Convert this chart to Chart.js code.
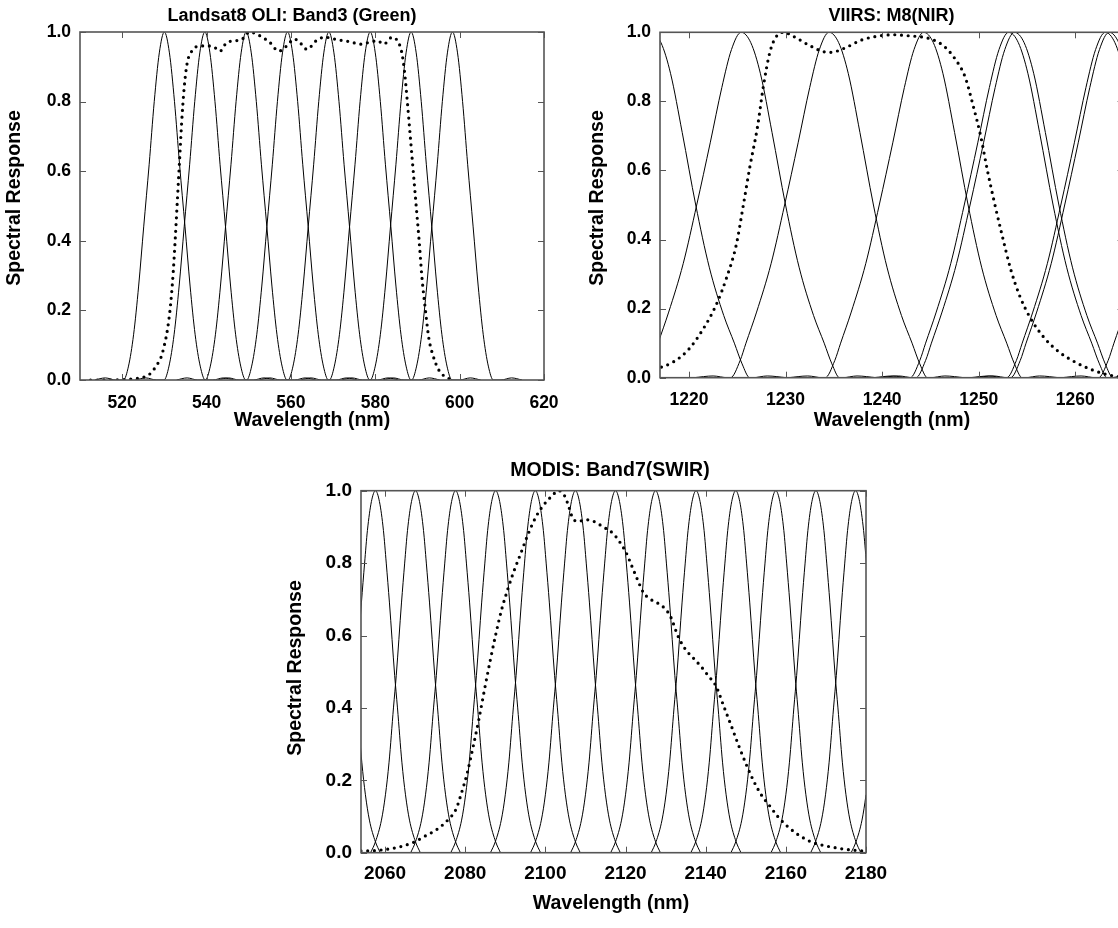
<!DOCTYPE html>
<html>
<head>
<meta charset="utf-8">
<script src="https://cdn.jsdelivr.net/npm/chart.js@4.4.1/dist/chart.umd.min.js"></script>
<style>
    html, body { margin: 0; padding: 0; background: #fff; overflow: hidden; }
    body { width: 1118px; height: 928px; position: relative; }
    canvas { position: absolute; }
</style>
</head>
<body>
<canvas id="oliChart" width="600" height="440" style="left:0;top:0"></canvas>
<canvas id="viirsChart" width="640" height="440" style="left:580px;top:0"></canvas>
<canvas id="modisChart" width="620" height="488" style="left:280px;top:440px"></canvas>
<script>
// spectral response ticks, shared by the three panels
const responseTicks = [0, 0.2, 0.4, 0.6, 0.8, 1.0];

// Landsat8 OLI band 3 (green)
const oliTicks = [520, 540, 560, 580, 600, 620];
const oliBandCenters = [530.0, 539.6, 549.4, 559.2, 569.0, 578.8, 588.5, 598.3];
// shape of one narrow band: offset from centre (nm) / response
// (the tiny side lobes sit about 14 nm either side of the peak)
const oliShapeOffset = [-16.5, -14, -11.5, -9.7, -8.5, -7.3, -6.1, -4.9, -3.6, -2.4, -1.2, 0,
    1.2, 2.4, 3.6, 4.9, 6.1, 7.3, 8.5, 9.7, 11.5, 14, 16.5];
const oliShapeResp = [0, 0.006, 0, 0, 0.04, 0.13, 0.27, 0.44, 0.62, 0.8, 0.94, 1,
    0.94, 0.8, 0.62, 0.44, 0.27, 0.13, 0.04, 0, 0, 0.006, 0];
const oliSrfWave = [512.5, 516, 520, 523, 525.5, 526.8, 528.2, 529.2, 530, 530.8, 531.5, 532.1, 532.6, 533.1, 533.6,
    534.1, 534.7, 535.4, 536.5, 538.5, 540.5, 542, 543.2, 544.8, 547, 548.5, 550.2, 552.5, 555, 557.1, 559, 560.8,
    562.5, 563.8, 566, 568, 571, 574, 576.5, 578.5, 580.5, 582, 584, 585.5, 586.3, 586.9, 587.6, 588.3, 589, 589.7,
    590.4, 591.1, 591.9, 592.7, 593.7, 595, 596.5, 598.5];
const oliSrfResp = [0, 0, 0.001, 0.004, 0.01, 0.02, 0.043, 0.065, 0.1, 0.15, 0.22, 0.31, 0.41, 0.52, 0.63,
    0.74, 0.84, 0.91, 0.945, 0.96, 0.96, 0.955, 0.945, 0.97, 0.975, 0.98, 1.0, 0.99, 0.97, 0.945, 0.96, 0.98,
    0.965, 0.95, 0.975, 0.985, 0.978, 0.972, 0.965, 0.97, 0.975, 0.965, 0.985, 0.97, 0.94, 0.89, 0.8, 0.7, 0.6, 0.5,
    0.4, 0.29, 0.2, 0.12, 0.07, 0.03, 0.01, 0];

// VIIRS M8 (NIR)
const viirsTicks = [1220, 1230, 1240, 1250, 1260];
const viirsBandCenters = [1216.1, 1225.4, 1234.5, 1244.3, 1253.1, 1253.7, 1263.1, 1263.5, 1272.6];
const viirsShapeOffset = [-14, -12, -10.5, -10.2, -9.2, -8.6, -7.5, -6, -4.6, -3.2, -2, -1, 0,
    1, 2, 3.2, 4.6, 6, 7.5, 8.6, 9.4, 10.2, 10.5, 12, 14];
const viirsShapeResp = [0, 0.005, 0, 0, 0.05, 0.1, 0.19, 0.33, 0.5, 0.68, 0.84, 0.95, 1,
    0.97, 0.88, 0.71, 0.5, 0.32, 0.18, 0.1, 0.04, 0, 0, 0.005, 0];
const viirsSrfWave = [1216.5, 1218.4, 1219.9, 1221.4, 1222.8, 1223.9, 1224.9, 1225.6, 1226.3, 1227.1, 1227.7,
    1228.4, 1229.1, 1229.8, 1230.9, 1232.4, 1233.9, 1234.7, 1236.1, 1237.9, 1239.8, 1241.2, 1242.7, 1244.2, 1245.3,
    1246.4, 1247.5, 1248.6, 1249.4, 1250.2, 1250.9, 1251.6, 1252.4, 1253.3, 1254.2, 1255.3, 1256.8, 1258.3, 1260,
    1261.8, 1264, 1266, 1268];
const viirsSrfResp = [0.024, 0.046, 0.08, 0.138, 0.21, 0.29, 0.385, 0.495, 0.61, 0.727, 0.843,
    0.945, 0.99, 1.0, 0.987, 0.963, 0.944, 0.942, 0.954, 0.978, 0.99, 0.993, 0.99, 0.986, 0.978,
    0.96, 0.925, 0.87, 0.79, 0.7, 0.6, 0.51, 0.415, 0.315, 0.24, 0.175, 0.115, 0.075, 0.045,
    0.022, 0.005, 0.001, 0];

// MODIS band 7 (SWIR)
const modisTicks = [2060, 2080, 2100, 2120, 2140, 2160, 2180];
const modisBandCenters = [2047.6, 2057.6, 2067.6, 2077.6, 2087.6, 2097.5, 2107.5, 2117.5, 2127.5, 2137.6, 2147.5,
    2157.5, 2167.5, 2177.4, 2187.5];
const modisShapeOffset = [-11.2, -10, -8.5, -7.5, -6.6, -5.5, -4.8, -3.5, -2.7, -2, -1, 0, 1, 2, 2.7, 3.5, 4.8, 5.5, 6.6, 7.5, 8.5, 10, 11.2];
const modisShapeResp = [0, 0.03, 0.09, 0.16, 0.25, 0.4, 0.49, 0.69, 0.8, 0.89, 0.97, 1, 0.97, 0.89, 0.8, 0.69, 0.49, 0.4, 0.25, 0.16, 0.09, 0.03, 0];
const modisSrfWave = [2054, 2056.2, 2058.6, 2061.4, 2064.3, 2067.2, 2070, 2072.9, 2075.8, 2077.7, 2079.1, 2080.5,
    2082, 2083.4, 2084.8, 2086.3, 2087.7, 2089.1, 2090.6, 2092, 2093.9, 2095.8, 2097.7, 2099.6, 2101.5, 2103.3,
    2104.9, 2105.8, 2106.8, 2108.2, 2110.1, 2112.1, 2114.4, 2116.8, 2118.7, 2120.2, 2121.6, 2123, 2124.5, 2126.4,
    2129.2, 2131.2, 2133.1, 2135, 2136.9, 2138.8, 2140.7, 2142.6, 2144.5, 2146.4, 2148.3, 2150.3, 2152.2, 2154.1,
    2156, 2157.9, 2160.8, 2163.6, 2166.5, 2169.4, 2172.2, 2175.1, 2178.9, 2180.5];
const modisSrfResp = [0.005, 0.005, 0.007, 0.011, 0.018, 0.029, 0.046, 0.064, 0.092, 0.12, 0.166, 0.22,
    0.294, 0.368, 0.45, 0.534, 0.607, 0.672, 0.727, 0.773, 0.828, 0.883, 0.929, 0.961, 0.984, 1.0,
    0.984, 0.957, 0.925, 0.915, 0.92, 0.915, 0.9, 0.883, 0.856, 0.828, 0.791, 0.754, 0.718, 0.699,
    0.681, 0.653, 0.598, 0.561, 0.538, 0.515, 0.488, 0.46, 0.405, 0.35, 0.294, 0.239, 0.193, 0.156,
    0.129, 0.101, 0.069, 0.046, 0.029, 0.02, 0.014, 0.009, 0.005, 0.004];

const FONT = "'Liberation Sans', Arial, sans-serif";
Chart.defaults.color = '#000';
Chart.defaults.font.family = FONT;

// inward tick marks on all four sides + box frame, like the original plots
const frameTicks = {
    id: 'frameTicks',
    afterDatasetsDraw(chart) {
        const { ctx, chartArea: a, scales: { x, y } } = chart;
        ctx.save();
        ctx.strokeStyle = '#555';
        ctx.lineWidth = 1;
        ctx.beginPath();
        x.ticks.forEach(t => {
            const px = Math.round(x.getPixelForValue(t.value)) + 0.5;
            ctx.moveTo(px, a.bottom); ctx.lineTo(px, a.bottom - 6);
            ctx.moveTo(px, a.top); ctx.lineTo(px, a.top + 6);
        });
        y.ticks.forEach(t => {
            const py = Math.round(y.getPixelForValue(t.value)) + 0.5;
            ctx.moveTo(a.left, py); ctx.lineTo(a.left + 6, py);
            ctx.moveTo(a.right, py); ctx.lineTo(a.right - 6, py);
        });
        ctx.stroke();
        ctx.lineWidth = 1.6;
        ctx.strokeRect(a.left, a.top, a.right - a.left, a.bottom - a.top);
        ctx.restore();
    }
};

// panel title and axis titles; the original figure does not centre them on the plot box
const panelText = {
    id: 'panelText',
    afterDraw(chart, args, opts) {
        const ctx = chart.ctx;
        ctx.save();
        ctx.fillStyle = '#000';
        ctx.textAlign = 'center';
        ctx.textBaseline = 'middle';
        opts.items.forEach(it => {
            ctx.save();
            ctx.font = 'bold ' + it.size + 'px ' + FONT;
            ctx.translate(it.x, it.y);
            if (it.rotate) ctx.rotate(-Math.PI / 2);
            ctx.fillText(it.text, 0, 0);
            ctx.restore();
        });
        ctx.restore();
    }
};

function bandDatasets(centers, offsets, resp) {
    return centers.map(c => ({
        data: offsets.map((dx, i) => ({ x: c + dx, y: resp[i] })),
        borderColor: '#000',
        borderWidth: 1,
        pointRadius: 0,
        cubicInterpolationMode: 'monotone'
    }));
}

function srfDataset(wave, resp) {
    return {
        data: wave.map((w, i) => ({ x: w, y: resp[i] })),
        borderColor: '#000',
        borderWidth: 3.2,
        borderDash: [0, 6.7],
        borderCapStyle: 'round',
        pointRadius: 0,
        cubicInterpolationMode: 'monotone'
    };
}

function makePanel(id, p) {
    const tickFont = { size: p.tickSize, weight: 'bold' };
    return new Chart(document.getElementById(id), {
        type: 'line',
        data: {
            datasets: [srfDataset(p.srfWave, p.srfResp)].concat(bandDatasets(p.centers, p.shapeOffset, p.shapeResp))
        },
        options: {
            responsive: false,
            animation: false,
            events: [],
            devicePixelRatio: 1,
            layout: { padding: { left: 0, top: p.padTop, right: p.padRight, bottom: 0 } },
            plugins: {
                legend: { display: false },
                tooltip: { enabled: false },
                panelText: {
                    items: [
                        { text: p.title, x: p.titlePos[0], y: p.titlePos[1], size: p.titleSize },
                        { text: 'Wavelength (nm)', x: p.xTitlePos[0], y: p.xTitlePos[1], size: p.axisTitleSize },
                        { text: 'Spectral Response', x: p.yTitlePos[0], y: p.yTitlePos[1], size: p.axisTitleSize, rotate: true }
                    ]
                }
            },
            scales: {
                x: {
                    type: 'linear',
                    min: p.xMin,
                    max: p.xMax,
                    afterBuildTicks: s => { s.ticks = p.xTicks.map(v => ({ value: v })); },
                    afterFit: s => { s.height = p.xHeight; },
                    grid: { display: false, drawTicks: false },
                    border: { display: false },
                    ticks: { padding: p.xTickPad, autoSkip: false, maxRotation: 0, font: tickFont, callback: v => String(v) }
                },
                y: {
                    min: 0,
                    max: 1,
                    afterBuildTicks: s => { s.ticks = responseTicks.map(v => ({ value: v })); },
                    afterFit: s => { s.width = p.yWidth; },
                    grid: { display: false, drawTicks: false },
                    border: { display: false },
                    ticks: { padding: 9, font: tickFont, callback: v => v.toFixed(1) }
                }
            }
        },
        plugins: [frameTicks, panelText]
    });
}

makePanel('oliChart', {
    title: 'Landsat8 OLI: Band3 (Green)',
    srfWave: oliSrfWave, srfResp: oliSrfResp,
    centers: oliBandCenters, shapeOffset: oliShapeOffset, shapeResp: oliShapeResp,
    xMin: 510, xMax: 620, xTicks: oliTicks,
    tickSize: 17.5, titleSize: 18, axisTitleSize: 19.5,
    padTop: 32, padRight: 56, yWidth: 80, xHeight: 60, xTickPad: 13,
    titlePos: [292, 16], xTitlePos: [312, 421], yTitlePos: [15, 198]
});

makePanel('viirsChart', {
    title: 'VIIRS: M8(NIR)',
    srfWave: viirsSrfWave, srfResp: viirsSrfResp,
    centers: viirsBandCenters, shapeOffset: viirsShapeOffset, shapeResp: viirsShapeResp,
    xMin: 1217, xMax: 1265, xTicks: viirsTicks,
    tickSize: 17.5, titleSize: 18, axisTitleSize: 19.5,
    padTop: 32.3, padRight: 96.4, yWidth: 80, xHeight: 62.3, xTickPad: 12,
    titlePos: [311.5, 16], xTitlePos: [312, 421], yTitlePos: [18, 198]
});

makePanel('modisChart', {
    title: 'MODIS: Band7(SWIR)',
    srfWave: modisSrfWave, srfResp: modisSrfResp,
    centers: modisBandCenters, shapeOffset: modisShapeOffset, shapeResp: modisShapeResp,
    xMin: 2054, xMax: 2180, xTicks: modisTicks,
    tickSize: 19, titleSize: 19.5, axisTitleSize: 19.5,
    padTop: 50.7, padRight: 34, yWidth: 81, xHeight: 75.3, xTickPad: 10,
    titlePos: [330, 31], xTitlePos: [331, 464], yTitlePos: [16, 228]
});
</script>
</body>
</html>
